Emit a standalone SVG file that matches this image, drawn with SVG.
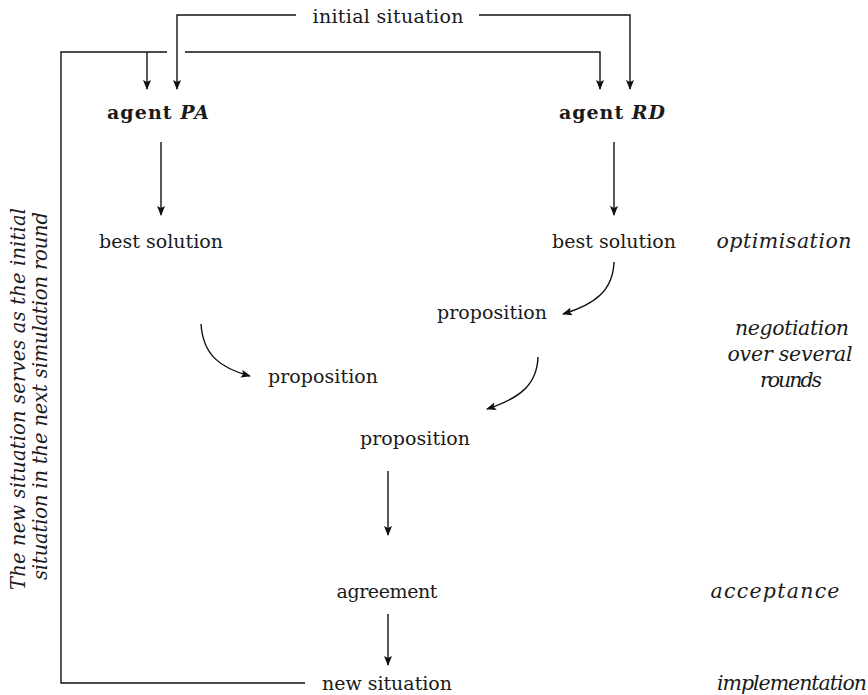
<svg xmlns="http://www.w3.org/2000/svg" width="868" height="695" viewBox="0 0 868 695">
<style>
text{font-family:"DejaVu Serif","Liberation Serif",serif;font-size:19px;fill:#1a1a1a;text-anchor:middle}
.b{font-weight:bold}
.i{font-style:italic}
.l{font-style:italic;font-size:20.5px}
.n{font-style:italic;font-size:19.5px}
.c{fill:none;stroke:#111;stroke-width:1.4}
</style>
<defs>
<marker id="ah" viewBox="0 0 10 8" refX="9" refY="4" markerWidth="10" markerHeight="8" markerUnits="userSpaceOnUse" orient="auto">
<path d="M0,0 L10,4 L0,8 L2,4 Z" fill="#111"/>
</marker>
</defs>
<rect width="868" height="695" fill="#fff"/>
<g id="connectors">
<path class="c" d="M296,15 H177 V89" marker-end="url(#ah)"/>
<path class="c" d="M479,15 H630 V89" marker-end="url(#ah)"/>
<path class="c" d="M167,52 H61 V683 H305"/>
<path class="c" d="M147,52 V89" marker-end="url(#ah)"/>
<path class="c" d="M185,52 H600 V89" marker-end="url(#ah)"/>
<path class="c" d="M161,142 V215" marker-end="url(#ah)"/>
<path class="c" d="M614,142 V215" marker-end="url(#ah)"/>
<path class="c" d="M614,262 C613,290 596,304 563,314" marker-end="url(#ah)"/>
<path class="c" d="M201,324 C203,355 220,368 250,376" marker-end="url(#ah)"/>
<path class="c" d="M538,357 C537,385 520,398 487,409" marker-end="url(#ah)"/>
<path class="c" d="M388,471 V535" marker-end="url(#ah)"/>
<path class="c" d="M388,614 V665" marker-end="url(#ah)"/>
</g>
<g id="initial"><text x="388" y="23" textLength="151">initial situation</text></g>
<g id="agentPA"><text class="b" x="158" y="119" textLength="102">agent <tspan class="i">PA</tspan></text></g>
<g id="agentRD"><text class="b" x="612" y="119" textLength="106">agent <tspan class="i">RD</tspan></text></g>
<g id="bestPA"><text x="161" y="248" textLength="124">best solution</text></g>
<g id="bestRD"><text x="614" y="248" textLength="124">best solution</text></g>
<g id="prop1"><text x="492" y="319" textLength="110">proposition</text></g>
<g id="prop2"><text x="323" y="383" textLength="110">proposition</text></g>
<g id="prop3"><text x="415" y="445" textLength="110">proposition</text></g>
<g id="agreement"><text x="387" y="598" textLength="101">agreement</text></g>
<g id="newsit"><text x="387" y="690" textLength="130">new situation</text></g>
<g id="labels">
<text class="l" x="784" y="248" textLength="135">optimisation</text>
<text class="l" x="792" y="335" textLength="114">negotiation</text>
<text class="l" x="790" y="361" textLength="125">over several</text>
<text class="l" x="791" y="387" textLength="62">rounds</text>
<text class="l" x="775" y="598" textLength="129">acceptance</text>
<text class="l" x="792" y="690" textLength="150">implementation</text>
</g>
<g id="note">
<text class="n" transform="translate(25,399) rotate(-90)" textLength="382">The new situation serves as the initial</text>
<text class="n" transform="translate(47,396) rotate(-90)" textLength="368">situation in the next simulation round</text>
</g>
</svg>
